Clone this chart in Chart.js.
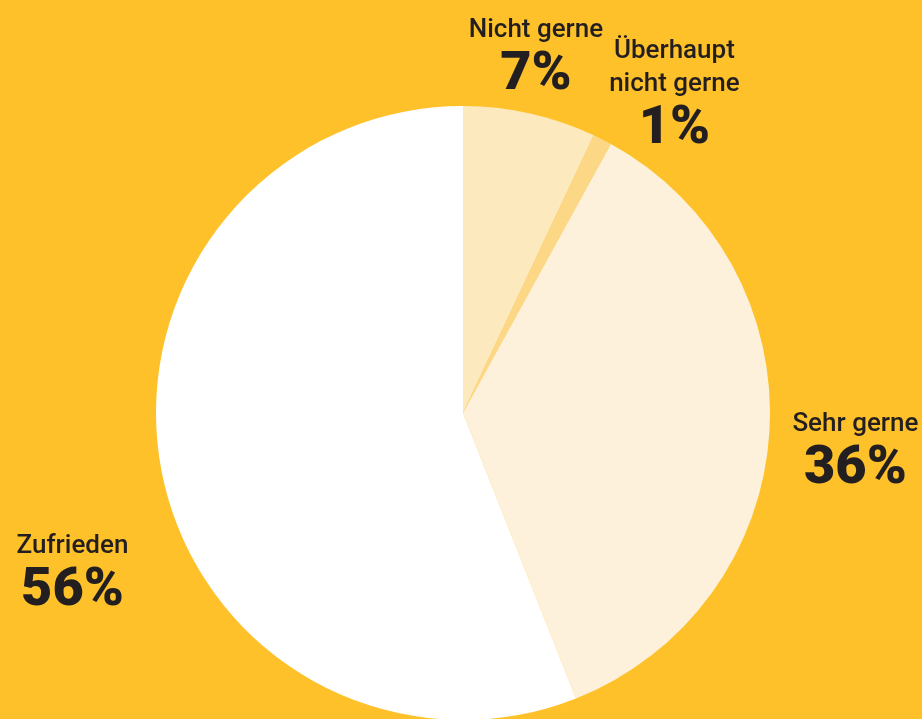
<!DOCTYPE html>
<html>
<head>
<meta charset="utf-8">
<script src="https://cdn.jsdelivr.net/npm/chart.js@4/dist/chart.umd.min.js"></script>
<style>
  html, body { margin: 0; padding: 0; overflow: hidden; background: #FEC12A; }
  #wrap { width: 922px; height: 740px; }
</style>
</head>
<body>
<div id="wrap"><canvas id="grafico"></canvas></div>
<script>
// Daten
const kategorien = ['Nicht gerne', 'Überhaupt nicht gerne', 'Sehr gerne', 'Zufrieden'];
const beschriftung = [['Nicht gerne'], ['Überhaupt', 'nicht gerne'], ['Sehr gerne'], ['Zufrieden']];
const anteile = [7, 1, 36, 56];
const farben = ['#FDE9BE', '#FCD785', '#FDF1DB', '#FFFFFF'];

// Verschiebung der Beschriftung relativ zum Außenrand des Segments
const versatz = [[6, -24], [72, 4], [86, 51], [-89, 134]];

const labelPlugin = {
    id: 'aussenLabels',
    afterDatasetsDraw(chart) {
        const ctx = chart.ctx;
        const meta = chart.getDatasetMeta(0);
        ctx.save();
        ctx.fillStyle = '#231F20';
        ctx.textAlign = 'center';
        ctx.textBaseline = 'alphabetic';
        meta.data.forEach((arc, i) => {
            const mitte = (arc.startAngle + arc.endAngle) / 2;
            const x = arc.x + Math.cos(mitte) * arc.outerRadius + versatz[i][0];
            const y = arc.y + Math.sin(mitte) * arc.outerRadius + versatz[i][1];
            ctx.font = '900 54px Roboto';
            ctx.fillText(anteile[i] + '%', x, y);
            ctx.font = '500 26px Roboto';
            const zeilen = beschriftung[i];
            zeilen.forEach((z, j) => {
                ctx.fillText(z, x, y - 52 - (zeilen.length - 1 - j) * 33);
            });
        });
        ctx.restore();
    }
};

const ctx = document.getElementById('grafico').getContext('2d');
const grafico = new Chart(ctx, {
    type: 'pie',
    data: {
        labels: kategorien,
        datasets: [{
            data: anteile,
            backgroundColor: farben,
            borderWidth: 0
        }]
    },
    options: {
        responsive: true,
        maintainAspectRatio: false,
        animation: false,
        layout: { padding: { top: 106, bottom: 20, left: 156, right: 152 } },
        plugins: {
            legend: { display: false },
            tooltip: { enabled: false },
            title: { display: false }
        }
    },
    plugins: [labelPlugin]
});
</script>
</body>
</html>
